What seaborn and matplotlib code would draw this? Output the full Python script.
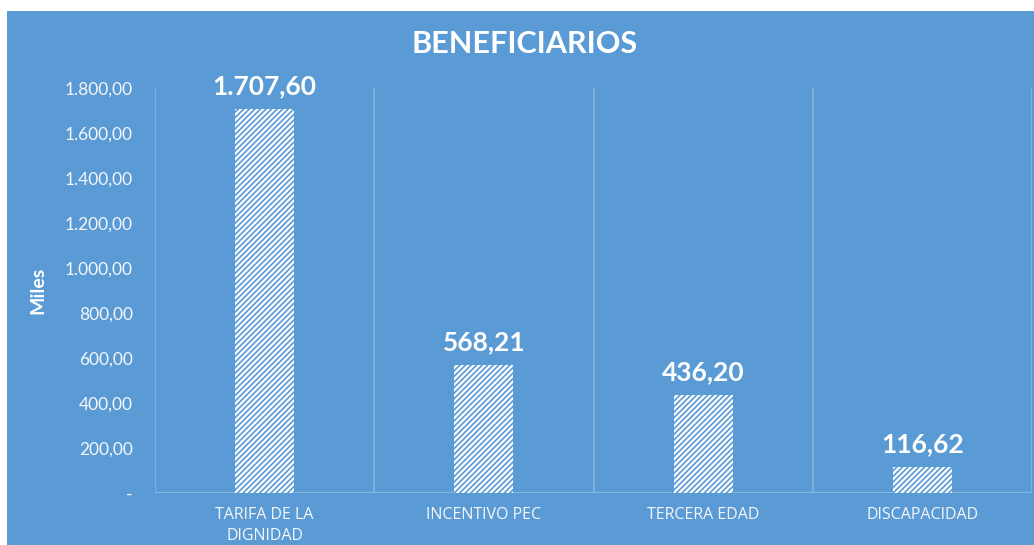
import matplotlib
matplotlib.use("Agg")
import matplotlib.pyplot as plt
import seaborn as sns
import pandas as pd
from matplotlib.patches import Rectangle

categories = ["TARIFA DE LA\nDIGNIDAD", "INCENTIVO PEC", "TERCERA EDAD", "DISCAPACIDAD"]
values = [1707.60, 568.21, 436.20, 116.62]
value_labels = ["1.707,60", "568,21", "436,20", "116,62"]
yticks = [0, 200, 400, 600, 800, 1000, 1200, 1400, 1600, 1800]
ytick_labels = ["-", "200,00", "400,00", "600,00", "800,00", "1.000,00",
                "1.200,00", "1.400,00", "1.600,00", "1.800,00"]

BLUE = "#5B9BD5"
GRID = "#84B4E0"
TXT = "#F4F6FA"

sns.set_theme(style="white")
plt.rcParams["font.family"] = ["Lato", "DejaVu Sans"]
plt.rcParams["hatch.color"] = "white"
plt.rcParams["hatch.linewidth"] = 1.6

fig = plt.figure(figsize=(10.34, 5.45), dpi=100, facecolor="white")
bg = Rectangle((7 / 1034, 0), 1, 534 / 545, transform=fig.transFigure,
               facecolor=BLUE, edgecolor="none", zorder=-10)
fig.add_artist(bg)
ax = fig.add_axes([155 / 1034, 1 - 493 / 545, (1032 - 155) / 1034, (493 - 88) / 545])
ax.set_facecolor("none")
ax.set_zorder(5)

df = pd.DataFrame({"cat": categories, "val": values})
sns.barplot(data=df, x="cat", y="val", ax=ax, color=BLUE, width=0.27,
            saturation=1, edgecolor="white", linewidth=0)
for p in ax.patches:
    p.set_hatch("//////")
    p.set_facecolor(BLUE)
    p.set_edgecolor("white")
    p.set_linewidth(0)

for i, (v, lab) in enumerate(zip(values, value_labels)):
    ax.annotate(lab, (i, v), xytext=(0, 8), textcoords="offset points",
                ha="center", va="bottom", color="white", fontsize=19,
                fontweight="bold")

ax.set_xlim(-0.5, len(categories) - 0.5)
ax.set_ylim(0, 1800)
for xb in [i - 0.5 for i in range(len(categories) + 1)]:
    ax.axvline(xb, color=GRID, linewidth=1.2, zorder=0)
ax.axhline(0, color=GRID, linewidth=1.5, zorder=0)

ax.set_yticks(yticks)
ax.set_yticklabels(ytick_labels, color=TXT, fontsize=12.5)
ax.set_xticks(range(len(categories)))
ax.set_xticklabels(categories, color=TXT, fontsize=11.5, linespacing=1.4,
                   family=["Open Sans", "DejaVu Sans"])
ax.tick_params(axis="y", length=0, pad=16)
ax.tick_params(axis="x", length=0, pad=10)
for s in ax.spines.values():
    s.set_visible(False)
ax.set_xlabel("")
ax.set_ylabel("")

fig.text(38 / 1034, 1 - 290 / 545, "Miles", rotation=90, color="white",
         fontsize=14, fontweight="bold", ha="center", va="center")
fig.text(525 / 1034, 1 - 44 / 545, "BENEFICIARIOS", color="white",
         fontsize=22, fontweight="bold", ha="center", va="center")

fig.savefig("out.png", dpi=100, facecolor="white")
